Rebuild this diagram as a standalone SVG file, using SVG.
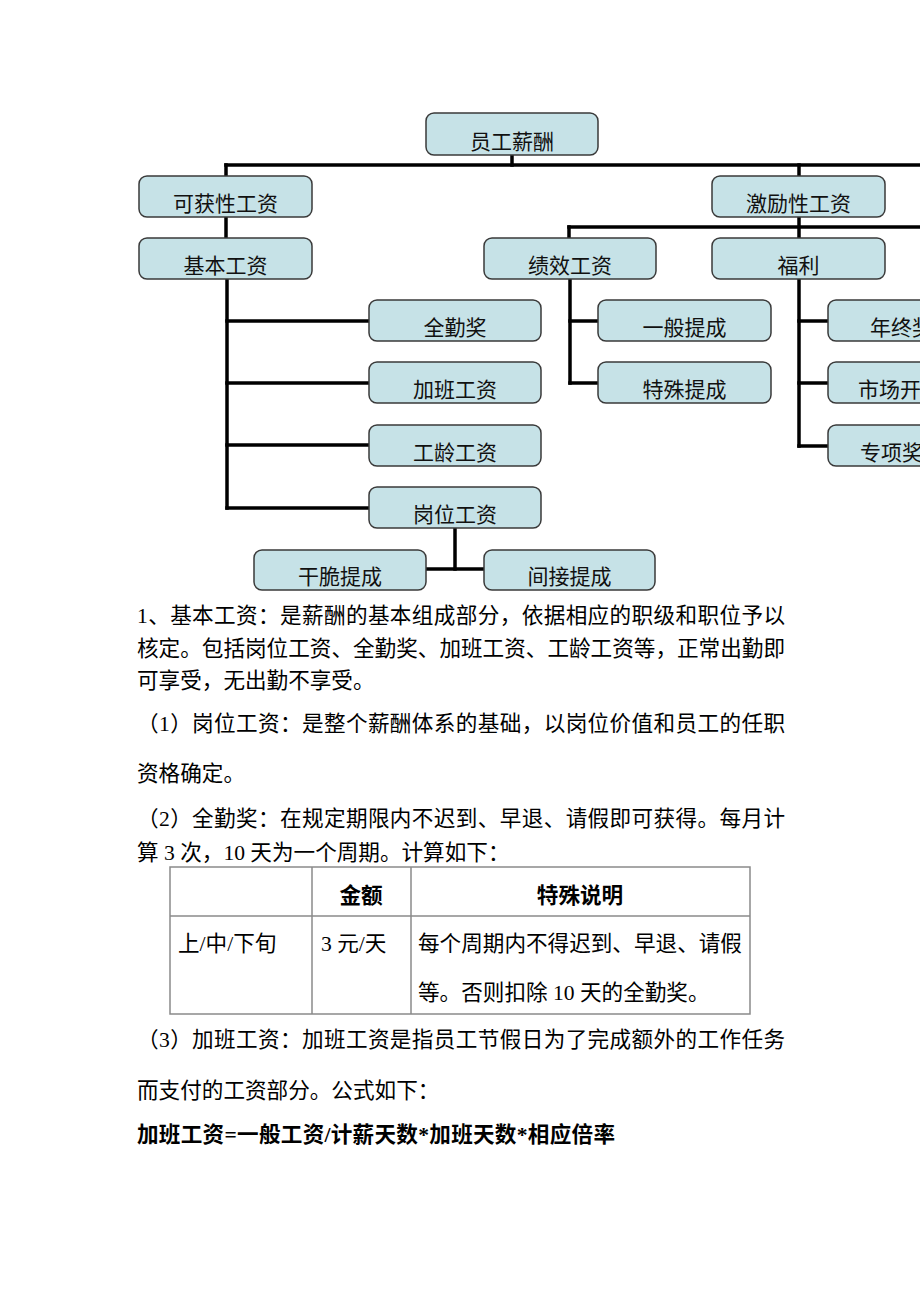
<svg xmlns="http://www.w3.org/2000/svg" width="920" height="1302" viewBox="0 0 920 1302">
<style>
.bg{fill:#ffffff}
.box{fill:#c6e2e7;stroke:#3a3a3a;stroke-width:1.5}
.lbl{font-family:"Liberation Serif","Noto Sans CJK SC",serif;font-size:21px;fill:#111;text-anchor:middle}
.lbs{font-family:"Liberation Serif","Noto Sans CJK SC",serif;font-size:21px;fill:#111}
.conn line{stroke:#000;stroke-width:3.5;stroke-linecap:square}
.body{font-family:"Liberation Serif","Noto Sans CJK SC",serif;font-size:21.6px;fill:#000}
.bold{font-weight:bold}
.tbl{fill:none;stroke:#8a8a8a;stroke-width:1.5}
.tc{text-anchor:middle}
</style>
<rect class="bg" x="0" y="0" width="920" height="1302"/>

<g id="connectors" class="conn">
  <line x1="512" y1="155" x2="512" y2="165"/>
  <line x1="226" y1="165" x2="922" y2="165"/>
  <line x1="226" y1="165" x2="226" y2="176"/>
  <line x1="799" y1="165" x2="799" y2="176"/>
  <line x1="226" y1="217" x2="226" y2="238"/>
  <line x1="227" y1="279" x2="227" y2="508"/>
  <line x1="227" y1="321" x2="369" y2="321"/>
  <line x1="227" y1="383" x2="369" y2="383"/>
  <line x1="227" y1="445" x2="369" y2="445"/>
  <line x1="227" y1="508" x2="369" y2="508"/>
  <line x1="799" y1="217" x2="799" y2="238"/>
  <line x1="569" y1="227" x2="922" y2="227"/>
  <line x1="569" y1="227" x2="569" y2="238"/>
  <line x1="570" y1="279" x2="570" y2="383"/>
  <line x1="570" y1="321" x2="598" y2="321"/>
  <line x1="570" y1="383" x2="598" y2="383"/>
  <line x1="799" y1="279" x2="799" y2="446"/>
  <line x1="799" y1="321" x2="828" y2="321"/>
  <line x1="799" y1="383" x2="828" y2="383"/>
  <line x1="799" y1="446" x2="828" y2="446"/>
  <line x1="455" y1="528" x2="455" y2="569"/>
  <line x1="426" y1="569" x2="484" y2="569"/>
</g>

<g id="n-root"><rect class="box" x="426" y="113" width="172" height="42" rx="8"/><text class="lbl" x="512" y="149">员工薪酬</text></g>
<g id="n-kehuo"><rect class="box" x="139" y="176" width="173" height="41" rx="8"/><text class="lbl" x="225.5" y="211">可获性工资</text></g>
<g id="n-jili"><rect class="box" x="712" y="176" width="173" height="41" rx="8"/><text class="lbl" x="798.5" y="211">激励性工资</text></g>
<g id="n-jiben"><rect class="box" x="139" y="238" width="173" height="41" rx="8"/><text class="lbl" x="225.5" y="273">基本工资</text></g>
<g id="n-jixiao"><rect class="box" x="484" y="238" width="172" height="41" rx="8"/><text class="lbl" x="570" y="273">绩效工资</text></g>
<g id="n-fuli"><rect class="box" x="712" y="238" width="173" height="41" rx="8"/><text class="lbl" x="798.5" y="273">福利</text></g>
<g id="n-quanqin"><rect class="box" x="369" y="300" width="172" height="41" rx="8"/><text class="lbl" x="455" y="335">全勤奖</text></g>
<g id="n-jiaban"><rect class="box" x="369" y="362" width="172" height="41" rx="8"/><text class="lbl" x="455" y="397">加班工资</text></g>
<g id="n-gongling"><rect class="box" x="369" y="425" width="172" height="41" rx="8"/><text class="lbl" x="455" y="460">工龄工资</text></g>
<g id="n-gangwei"><rect class="box" x="369" y="487" width="172" height="41" rx="8"/><text class="lbl" x="455" y="522">岗位工资</text></g>
<g id="n-yiban"><rect class="box" x="598" y="300" width="173" height="41" rx="8"/><text class="lbl" x="684.5" y="335">一般提成</text></g>
<g id="n-teshu"><rect class="box" x="598" y="362" width="173" height="41" rx="8"/><text class="lbl" x="684.5" y="397">特殊提成</text></g>
<g id="n-nianzhong"><rect class="box" x="828" y="300" width="173" height="41" rx="8"/><text class="lbs" x="870" y="335">年终奖</text></g>
<g id="n-shichang"><rect class="box" x="828" y="362" width="173" height="41" rx="8"/><text class="lbs" x="858" y="397">市场开</text></g>
<g id="n-zhuanxiang"><rect class="box" x="828" y="425" width="173" height="41" rx="8"/><text class="lbs" x="860" y="460">专项奖</text></g>
<g id="n-gancui"><rect class="box" x="254" y="550" width="172" height="40" rx="8"/><text class="lbl" x="340" y="584">干脆提成</text></g>
<g id="n-jianjie"><rect class="box" x="484" y="550" width="171" height="40" rx="8"/><text class="lbl" x="569.5" y="584">间接提成</text></g>

<g id="text-body" class="body">
  <text x="137" y="623" textLength="648" lengthAdjust="spacing">1、基本工资：是薪酬的基本组成部分，依据相应的职级和职位予以</text>
  <text x="137" y="656" textLength="648" lengthAdjust="spacing">核定。包括岗位工资、全勤奖、加班工资、工龄工资等，正常出勤即</text>
  <text x="137" y="688">可享受，无出勤不享受。</text>
  <text x="137" y="731" textLength="648" lengthAdjust="spacing">（1）岗位工资：是整个薪酬体系的基础，以岗位价值和员工的任职</text>
  <text x="137" y="781">资格确定。</text>
  <text x="137" y="826" textLength="648" lengthAdjust="spacing">（2）全勤奖：在规定期限内不迟到、早退、请假即可获得。每月计</text>
  <text x="137" y="860">算 3 次，10 天为一个周期。计算如下：</text>
  <text x="137" y="1047" textLength="648" lengthAdjust="spacing">（3）加班工资：加班工资是指员工节假日为了完成额外的工作任务</text>
  <text x="137" y="1098">而支付的工资部分。公式如下：</text>
  <text class="bold" x="137" y="1142" textLength="478" lengthAdjust="spacing">加班工资=一般工资/计薪天数*加班天数*相应倍率</text>
</g>

<g id="table">
  <rect class="tbl" x="170" y="867" width="580" height="147"/>
  <line class="tbl" x1="170" y1="916" x2="750" y2="916"/>
  <line class="tbl" x1="312" y1="867" x2="312" y2="1014"/>
  <line class="tbl" x1="411" y1="867" x2="411" y2="1014"/>
  <text class="body bold tc" x="361" y="903">金额</text>
  <text class="body bold tc" x="580" y="903">特殊说明</text>
  <text class="body" x="178" y="951">上/中/下旬</text>
  <text class="body" x="321" y="951">3 元/天</text>
  <text class="body" x="418" y="951">每个周期内不得迟到、早退、请假</text>
  <text class="body" x="418" y="1000">等。否则扣除 10 天的全勤奖。</text>
</g>
</svg>
